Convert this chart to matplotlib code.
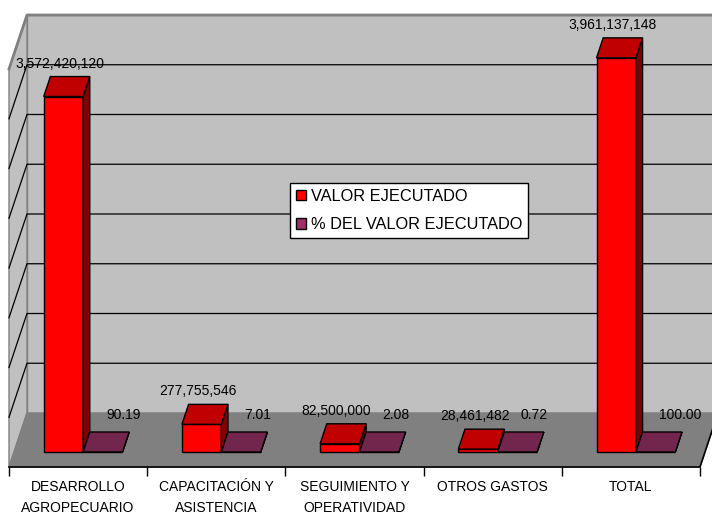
import matplotlib
matplotlib.use("Agg")
import matplotlib.pyplot as plt
from matplotlib.patches import Patch

plt.rcParams['font.family'] = ['Liberation Sans', 'DejaVu Sans']

categorias = ["DESARROLLO\nAGROPECUARIO", "CAPACITACIÓN Y\nASISTENCIA",
              "SEGUIMIENTO Y\nOPERATIVIDAD", "OTROS GASTOS", "TOTAL"]
valor_ejecutado = [3572420120, 277755546, 82500000, 28461482, 3961137148]
porcentaje = [90.19, 7.01, 2.08, 0.72, 100.00]
series = ["VALOR EJECUTADO", "% DEL VALOR EJECUTADO"]

# pixel scale of the fake 3d box
PX = 138.2          # px per category
PY = 99.5 / 1e9     # px per unit of value
DX = 18 / PX        # depth shift in x (full depth)
DY = 54 / PY        # depth shift in y (full depth)
VMAX = 4e9
STEP = 0.5e9
D0, D1 = 0.278, 0.648   # depth of the bars
BW = 0.285              # bar width in category units

RED = ("#FF0000", "#C00000", "#800000")
PUR = ("#993366", "#73264D", "#4D1A33")


def P(x, v, d):
    return (x + d * DX, v + d * DY)


def poly(ax, pts, fc, ec="black", lw=1.0, z=1):
    xs = [p[0] for p in pts]
    ys = [p[1] for p in pts]
    ax.fill(xs, ys, facecolor=fc, edgecolor=ec, linewidth=lw, zorder=z)


def bar3d(ax, x0, x1, v, cols, z):
    front, top, side = cols
    poly(ax, [P(x0, 0, D0), P(x1, 0, D0), P(x1, v, D0), P(x0, v, D0)], front, z=z)
    poly(ax, [P(x1, 0, D0), P(x1, 0, D1), P(x1, v, D1), P(x1, v, D0)], side, z=z)
    poly(ax, [P(x0, v, D0), P(x1, v, D0), P(x1, v, D1), P(x0, v, D1)], top, z=z)


fig = plt.figure(figsize=(7.12, 5.15), dpi=100)
ax = fig.add_axes([0, 0, 1, 1])
ax.axis("off")
ax.set_xlim(-9 / PX, (712 - 9) / PX)
ax.set_ylim(-(515 - 467) / PY, 467 / PY)

n = len(categorias)

# walls and floor
poly(ax, [P(0, 0, 1), P(n, 0, 1), P(n, VMAX, 1), P(0, VMAX, 1)], "#C0C0C0", ec="#808080", z=0)
poly(ax, [P(0, 0, 0), P(0, 0, 1), P(0, VMAX, 1), P(0, VMAX, 0)], "#C0C0C0", ec="#808080", z=0)
poly(ax, [P(0, 0, 0), P(n, 0, 0), P(n, 0, 1), P(0, 0, 1)], "#808080", ec="#808080", z=0)

v = STEP
while v < VMAX:
    a, b, c = P(0, v, 0), P(0, v, 1), P(n, v, 1)
    ax.plot([a[0], b[0], c[0]], [a[1], b[1], c[1]], color="black", lw=0.9, zorder=0.5)
    v += STEP
a, b, c = P(0, VMAX, 0), P(0, VMAX, 1), P(n, VMAX, 1)
ax.plot([a[0], b[0], c[0]], [a[1], b[1], c[1]], color="#808080", lw=2, zorder=0.5)

# category axis
a, b = P(n, 0, 0), P(n, 0, 1)
ax.plot([0, n, b[0]], [0, 0, b[1]], color="black", lw=1.2, zorder=0.6)
ax.vlines(range(n + 1), -9 / PY, 0, color="black", lw=1.0, zorder=0.6)

for i in range(n):
    xc = i + 0.5
    bar3d(ax, xc - BW, xc, valor_ejecutado[i], RED, z=2 + i)
    bar3d(ax, xc, xc + BW, porcentaje[i], PUR, z=2.5 + i)

    tx, ty = P(xc - BW / 2, valor_ejecutado[i], D1)
    ax.annotate(f"{valor_ejecutado[i]:,}", (tx, ty), xytext=(-10, 13),
                textcoords="offset pixels", ha="center", va="center",
                fontsize=10, zorder=10)
    tx, ty = P(xc, porcentaje[i], D0)
    ax.annotate(f"{porcentaje[i]:.2f}", (tx, ty), xytext=(23, 37),
                textcoords="offset pixels", ha="left", va="center",
                fontsize=10, zorder=10)

    ax.text(xc, -13 / PY, categorias[i], ha="center", va="top",
            fontsize=10, linespacing=1.6)

handles = [Patch(facecolor=RED[0], edgecolor="black"),
           Patch(facecolor=PUR[0], edgecolor="black")]
leg = ax.legend(handles, series, loc="upper left",
                bbox_to_anchor=(290 / 712, 1 - 183 / 515),
                bbox_transform=fig.transFigure, fancybox=False,
                edgecolor="black", framealpha=1, fontsize=11.8,
                handlelength=0.65, handleheight=0.65, handletextpad=0.3,
                borderpad=0.35, labelspacing=0.8, borderaxespad=0)
leg.get_frame().set_linewidth(1.0)
leg.set_zorder(20)

fig.savefig("out.png", dpi=100)
